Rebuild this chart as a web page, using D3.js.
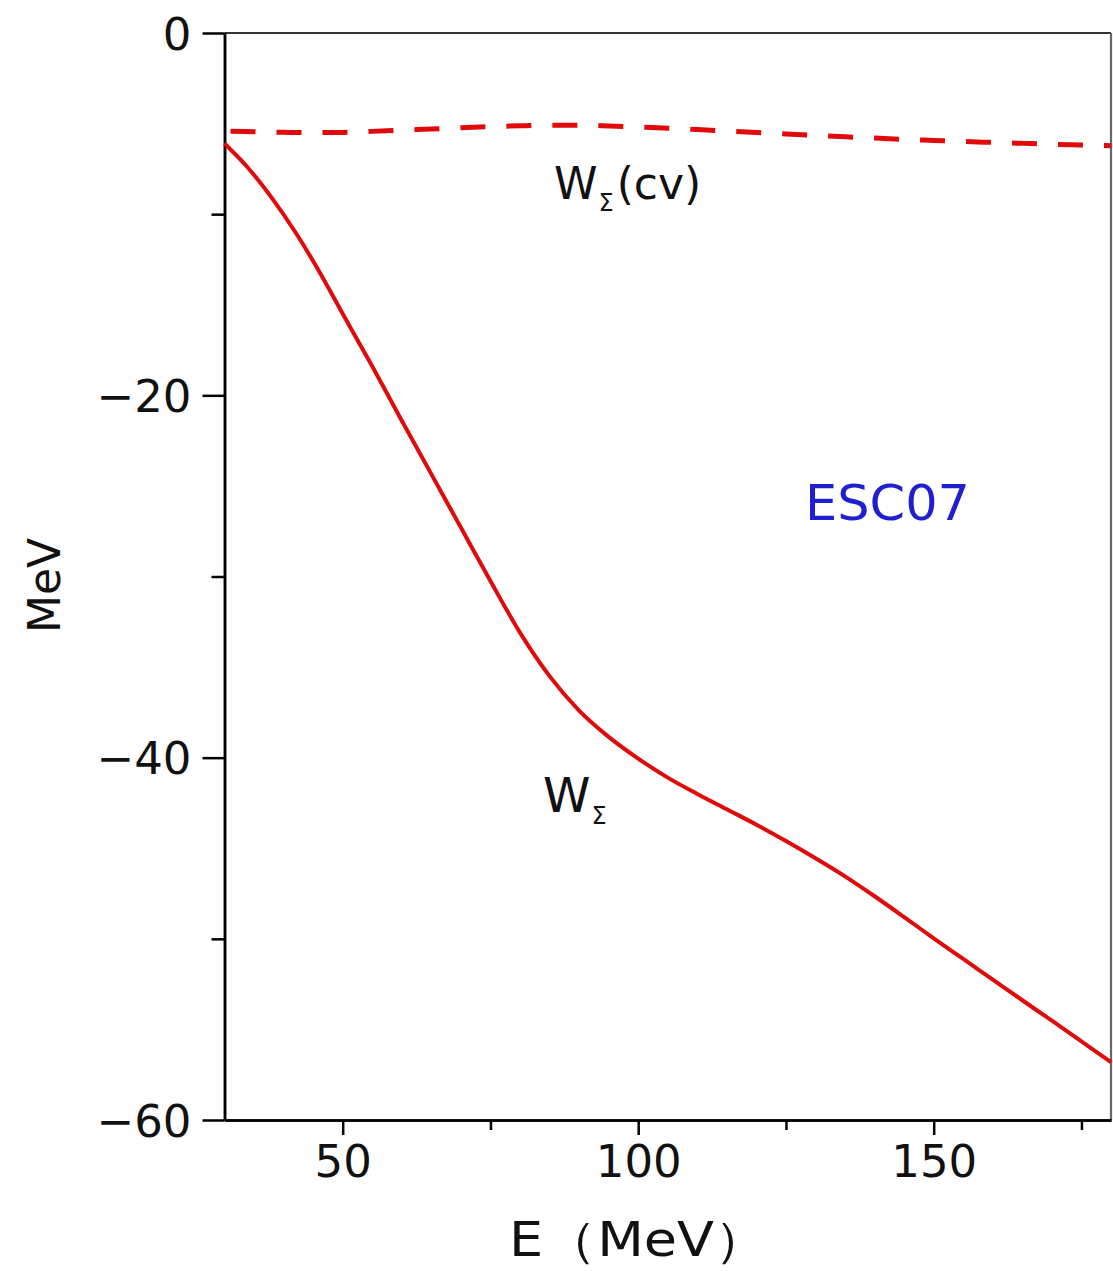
<!DOCTYPE html>
<html>
<head>
<meta charset="utf-8">
<script src="https://cdn.jsdelivr.net/npm/d3@7"></script>
<style>
  html, body { margin: 0; padding: 0; background: #fff; }
  svg { display: block; }
  text { font-family: "DejaVu Sans", "Liberation Sans", sans-serif; fill: #111; }
</style>
</head>
<body>
<svg id="chart" width="1113" height="1271"></svg>
<script>
// Energy grid (MeV) and the two imaginary potentials W_Sigma (MeV)
const energy = [30, 34, 38, 42, 46, 50, 55, 60, 65, 70, 75, 80, 85, 90, 95, 100,
  105, 110, 115, 120, 125, 130, 135, 140, 145, 150, 155, 160, 165, 170, 175, 180];
const wSigma = [-6.1, -7.45, -9.1, -11.0, -13.15, -15.5, -18.4, -21.4, -24.35, -27.3,
  -30.25, -33.1, -35.5, -37.4, -38.85, -40.05, -41.1, -42.0, -42.85, -43.7, -44.6,
  -45.55, -46.55, -47.65, -48.8, -49.97, -51.11, -52.25, -53.39, -54.52, -55.66, -56.8];

const energyCv = [30, 35, 40, 45, 50, 55, 60, 65, 70, 75, 80, 85, 90, 95, 100, 105,
  110, 115, 120, 125, 130, 135, 140, 145, 150, 155, 160, 165, 170, 175, 180];
const wSigmaCv = [-5.42, -5.45, -5.48, -5.50, -5.49, -5.43, -5.36, -5.30, -5.23,
  -5.17, -5.12, -5.09, -5.09, -5.13, -5.19, -5.26, -5.33, -5.41, -5.49, -5.57,
  -5.65, -5.73, -5.80, -5.87, -5.93, -5.99, -6.04, -6.09, -6.14, -6.18, -6.22];

const xMajorTicks = [50, 100, 150];
const xMinorTicks = [75, 125, 175];
const yMajorTicks = [0, -20, -40, -60];
const yMinorTicks = [-10, -30, -50];

const svg = d3.select("#chart");
const plot = { left: 224.5, right: 1111, top: 33, bottom: 1120 };

const x = d3.scaleLinear().domain([30, 180]).range([plot.left, plot.right]);
const y = d3.scaleLinear().domain([-60, 0]).range([plot.bottom, plot.top]);

const red = "#e10a0a";

// frame: top and right sides
svg.append("line")
  .attr("x1", plot.left).attr("x2", plot.right)
  .attr("y1", plot.top).attr("y2", plot.top)
  .attr("stroke", "#333").attr("stroke-width", 2.2);
svg.append("line")
  .attr("x1", plot.right).attr("x2", plot.right)
  .attr("y1", plot.top).attr("y2", plot.bottom)
  .attr("stroke", "#666").attr("stroke-width", 2.2);

const fmtMinus = d => d < 0 ? "\u2212" + Math.abs(d) : String(d);

// left axis
const yAxis = svg.append("g").attr("transform", `translate(${plot.left},0)`)
  .call(d3.axisLeft(y).tickValues(yMajorTicks).tickFormat(fmtMinus)
    .tickSize(22).tickSizeOuter(0).tickPadding(11));
const yMinor = svg.append("g").attr("transform", `translate(${plot.left},0)`)
  .call(d3.axisLeft(y).tickValues(yMinorTicks).tickFormat("").tickSize(13).tickSizeOuter(0));

// bottom axis
const xAxis = svg.append("g").attr("transform", `translate(0,${plot.bottom})`)
  .call(d3.axisBottom(x).tickValues(xMajorTicks).tickFormat(d3.format("d"))
    .tickSize(15).tickSizeOuter(0).tickPadding(10));
const xMinor = svg.append("g").attr("transform", `translate(0,${plot.bottom})`)
  .call(d3.axisBottom(x).tickValues(xMinorTicks).tickFormat("").tickSize(10).tickSizeOuter(0));

[yAxis, yMinor, xAxis, xMinor].forEach(g => {
  g.select(".domain").attr("stroke", "#000").attr("stroke-width", 2.5);
  g.selectAll(".tick line").attr("stroke", "#000").attr("stroke-width", 2.5);
  g.selectAll(".tick text").attr("font-size", 45).attr("fill", "#111")
    .style("font-family", "'DejaVu Sans', sans-serif");
});
yAxis.selectAll(".tick text").attr("dy", "0.36em");

// axis titles
svg.append("text")
  .attr("x", 509).attr("y", 1256)
  .attr("font-size", 48)
  .attr("textLength", 259)
  .attr("lengthAdjust", "spacingAndGlyphs")
  .text("E\uFF08MeV\uFF09");

svg.append("text")
  .attr("transform", `translate(60,${(plot.top + plot.bottom) / 2 + 9}) rotate(-90)`)
  .attr("text-anchor", "middle")
  .attr("font-size", 44)
  .text("MeV");

// curves
const line = d3.line()
  .x(d => x(d[0])).y(d => y(d[1]))
  .curve(d3.curveMonotoneX);

svg.append("path")
  .datum(energyCv.map((e, i) => [e, wSigmaCv[i]]))
  .attr("d", line)
  .attr("fill", "none")
  .attr("stroke", red)
  .attr("stroke-width", 5)
  .attr("stroke-dasharray", "25 21")
  .attr("stroke-dashoffset", -6);

svg.append("path")
  .datum(energy.map((e, i) => [e, wSigma[i]]))
  .attr("d", line)
  .attr("fill", "none")
  .attr("stroke", red)
  .attr("stroke-width", 4);

// curve labels
function subLabel(px, py, size, tail) {
  const t = svg.append("text").attr("x", px).attr("y", py).attr("font-size", size);
  t.append("tspan").text("W");
  t.append("tspan").attr("font-size", 24).attr("dx", 1).attr("dy", 12).text("\u03A3");
  if (tail) t.append("tspan").attr("font-size", size).attr("dy", -12).attr("dx", 3).text(tail);
}
subLabel(554, 199, 44, "(cv)");
subLabel(543, 812, 48, null);

svg.append("text")
  .attr("x", 805).attr("y", 520)
  .attr("font-size", 49)
  .attr("textLength", 165)
  .attr("lengthAdjust", "spacingAndGlyphs")
  .style("fill", "#1f1fd0")
  .text("ESC07");
</script>
</body>
</html>
